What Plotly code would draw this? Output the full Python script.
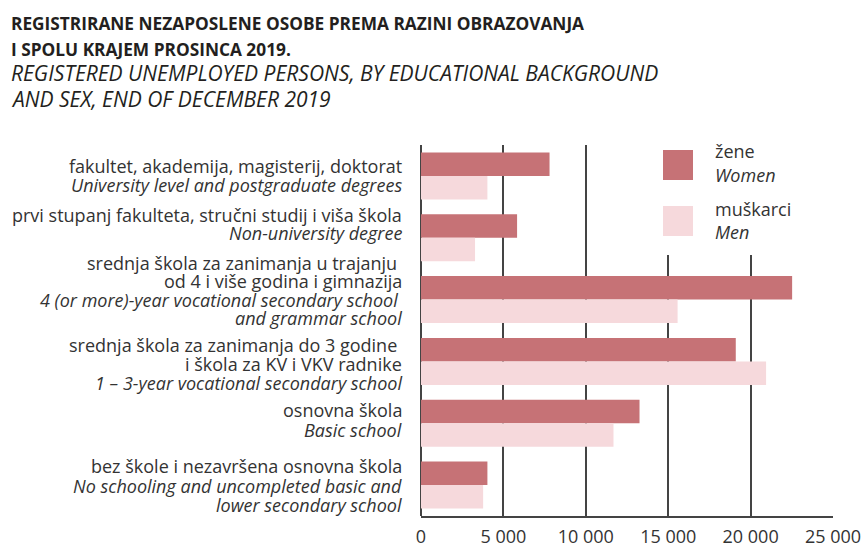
import plotly.graph_objects as go

# ---- data ----
cats_hr = [
    ["fakultet, akademija, magisterij, doktorat"],
    ["prvi stupanj fakulteta, stručni studij i viša škola"],
    ["srednja škola za zanimanja u trajanju\u00a0", "od 4 i više godina i gimnazija"],
    ["srednja škola za zanimanja do 3 godine\u00a0", "i škola za KV i VKV radnike"],
    ["osnovna škola"],
    ["bez škole i nezavršena osnovna škola"],
]
cats_en = [
    ["University level and postgraduate degrees"],
    ["Non-university degree"],
    ["4 (or more)-year vocational secondary school\u00a0", "and grammar school"],
    ["1 – 3-year vocational secondary school"],
    ["Basic school"],
    ["No schooling and uncompleted basic and", "lower secondary school"],
]
women = [7800, 5830, 22520, 19100, 13260, 4030]
men = [4030, 3280, 15570, 20940, 11680, 3770]
x_ticks = [0, 5000, 10000, 15000, 20000, 25000]
x_tick_text = ["0", "5 000", "10 000", "15 000", "20 000", "25 000"]
legend_hr = ["žene", "muškarci"]
legend_en = ["Women", "Men"]
title_hr = ["REGISTRIRANE NEZAPOSLENE OSOBE PREMA RAZINI OBRAZOVANJA", "I SPOLU KRAJEM PROSINCA 2019."]
title_en = ["REGISTERED UNEMPLOYED PERSONS, BY EDUCATIONAL BACKGROUND", "AND SEX, END OF DECEMBER 2019"]

# ---- style ----
C_W = "#c67276"
C_M = "#f6d9dc"
GRID = "#444444"
TXT = "#333333"
TTL = "#231f20"
FONT = "Open Sans"
FS = 18

cat_ids = list(range(len(cats_hr)))

fig = go.Figure()
fig.add_trace(go.Bar(y=cat_ids, x=women, orientation="h", marker=dict(color=C_W, line=dict(width=0)), name="Women"))
fig.add_trace(go.Bar(y=cat_ids, x=men, orientation="h", marker=dict(color=C_M, line=dict(width=0)), name="Men"))

W, H = 862, 549
L, R, T, B = 421, 29, 145, 33
pw, ph = W - L - R, H - T - B


def px_x(p):
    return (p - L) / pw


def px_y(p):
    return (H - B - p) / ph


def text_line(txt, x, baseline, fs, anchor, italic=False, bold=False, color=TXT):
    fig.add_annotation(
        text=txt, xref="paper", yref="paper", x=px_x(x), y=px_y(baseline - 0.388 * fs),
        xanchor=anchor, yanchor="middle", showarrow=False,
        font=dict(family=FONT, size=fs, color=color,
                  style="italic" if italic else "normal", weight="bold" if bold else "normal"),
    )


fig.update_layout(
    width=W, height=H,
    margin=dict(l=L, r=R, t=T, b=B, autoexpand=False),
    paper_bgcolor="white", plot_bgcolor="white",
    barmode="group", bargap=0.24, bargroupgap=0,
    showlegend=False,
    font=dict(family=FONT, color=TXT),
    xaxis=dict(
        range=[0, 25000], tickvals=x_ticks, ticktext=x_tick_text,
        showgrid=True, gridcolor=GRID, gridwidth=2,
        zeroline=True, zerolinecolor=GRID, zerolinewidth=2,
        showline=True, linecolor=GRID, linewidth=2,
        ticks="", tickfont=dict(size=FS, color=TXT, family=FONT), ticklabelstandoff=3,
    ),
    yaxis=dict(
        range=[len(cat_ids) - 0.5, -0.5], showgrid=False, zeroline=False,
        showline=False, ticks="", showticklabels=False,
    ),
)

# title
title_base = [30, 56, 81, 107]
for i, t in enumerate(title_hr):
    text_line(t, 9, title_base[i], 17.3, "left", bold=True, color=TTL)
for i, t in enumerate(title_en):
    text_line(t, 9, title_base[2 + i], 21, "left", italic=True, color=TTL)

# category labels (right aligned, first-line baseline and line step per category)
first_base = [173.3, 221.7, 270, 351.7, 416.7, 473.3]
step = [18.4, 18.3, 18.3, 19.2, 20, 19.2]
for c in cat_ids:
    lines = [(t, False) for t in cats_hr[c]] + [(t, True) for t in cats_en[c]]
    for k, (t, it) in enumerate(lines):
        text_line(t, 404, first_base[c] + k * step[c], FS, "right", italic=it)

# legend cover and symbols
fig.add_shape(type="rect", xref="paper", yref="paper", x0=px_x(630), x1=px_x(815), y0=px_y(255), y1=px_y(144),
              fillcolor="white", line=dict(width=0), layer="above")
sq = [(150, 180, C_W), (206, 236, C_M)]
for (y0, y1, c) in sq:
    fig.add_shape(type="rect", xref="paper", yref="paper", x0=px_x(663), x1=px_x(693), y0=px_y(y1), y1=px_y(y0),
                  fillcolor=c, line=dict(width=0), layer="above")
leg_base = [158.3, 216]
for i, (hr, en) in enumerate(zip(legend_hr, legend_en)):
    text_line(hr, 713, leg_base[i], FS, "left")
    text_line(en, 713, leg_base[i] + 23.4, FS, "left", italic=True)

fig.write_html("out.html", config={"displayModeBar": False},
               post_script="document.body.style.margin='0';")
